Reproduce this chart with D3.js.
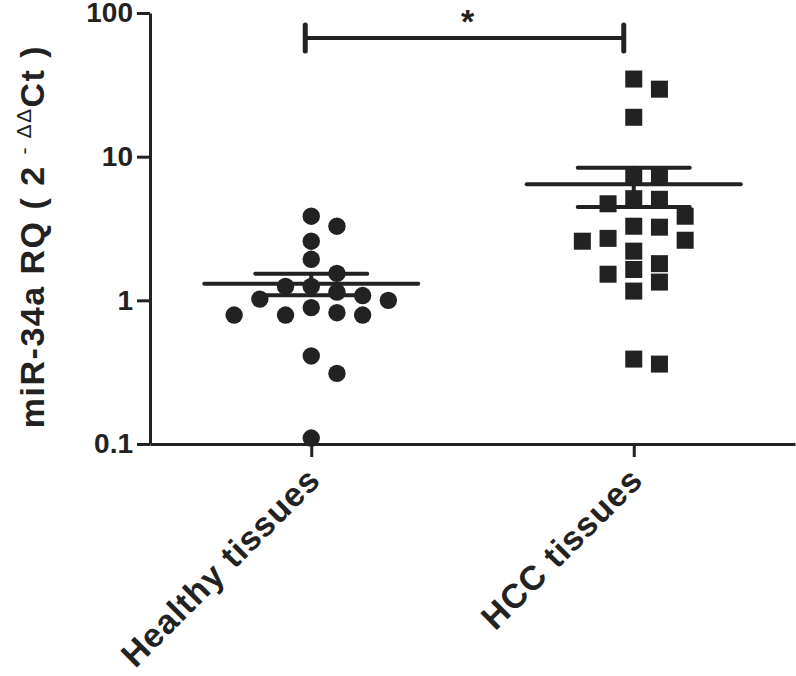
<!DOCTYPE html>
<html>
<head>
<meta charset="utf-8">
<script src="https://cdn.jsdelivr.net/npm/d3@7"></script>
<style>
body { margin: 0; background: #fff; }
text { font-family: "Liberation Sans", Arial, sans-serif; fill: #222; }
</style>
</head>
<body>
<svg id="mainsvg" width="796" height="676"></svg>
<script>
// values (relative quantity, log scale)
const categories = ['Healthy tissues', 'HCC tissues'];
const healthyValues = [3.85, 3.28, 2.58, 1.93, 1.54, 1.25, 1.25, 1.14, 1.08, 1.02, 1.0,
    0.89, 0.82, 0.79, 0.79, 0.79, 0.41, 0.31, 0.11];
const hccValues = [34.7, 29.5, 18.8, 7.4, 7.4, 5.1, 5.05, 4.7, 3.85, 3.28, 3.23,
    2.7, 2.62, 2.58, 2.2, 1.8, 1.64, 1.52, 1.34, 1.16, 0.39, 0.36];
const yTicks = [0.1, 1, 10, 100];
const yTickLabels = ['0.1', '1', '10', '100'];
const sigLabel = '*';

const ink = '#222';
const svg = d3.select('#mainsvg')
const width = +svg.attr('width')
const height = +svg.attr('height')
const margin = { top: 13, right: 1, left: 150, bottom: 232 }
const innerWidth = width - margin.left - margin.right;
const innerHeight = height - margin.top - margin.bottom;
const g = svg.append('g').attr('id', 'maingroup')
    .attr('transform', `translate(${margin.left}, ${margin.top})`)

const x = d3.scalePoint().domain(categories).range([0, innerWidth]).padding(0.5);
const y = d3.scaleLog().domain([0.1, 100]).range([innerHeight, 0]);

// axes
const yAxis = d3.axisLeft(y).tickValues(yTicks)
    .tickFormat((d, i) => yTickLabels[i]).tickSize(13).tickSizeOuter(0).tickPadding(4);
const xAxis = d3.axisBottom(x).tickSize(13).tickSizeOuter(0).tickFormat('');

const ya = g.append('g').call(yAxis);
const xa = g.append('g').attr('transform', `translate(0, ${innerHeight})`).call(xAxis);
[ya, xa].forEach(a => {
    a.selectAll('path, line').attr('stroke', ink).attr('stroke-width', 3);
});
ya.selectAll('text').attr('font-size', 28).attr('font-weight', 'bold').attr('fill', ink)
    .attr('font-family', '"Liberation Sans", Arial, sans-serif');

// rotated category labels
g.selectAll('.xlab').data(categories).join('text')
    .attr('class', 'xlab')
    .attr('text-anchor', 'end')
    .attr('font-size', 34).attr('font-weight', 'bold').attr('letter-spacing', 1)
    .attr('transform', d => `translate(${x(d) + 11}, ${innerHeight + 38}) rotate(-45)`)
    .text(d => d);

// y label with superscript
const yl = svg.append('text')
    .attr('transform', `translate(44, ${margin.top + innerHeight / 2 + 8}) rotate(-90)`)
    .attr('text-anchor', 'middle').attr('font-size', 34).attr('font-weight', 'bold')
    .attr('letter-spacing', 1.5);
yl.append('tspan').text('miR-34a RQ ( 2 ');
yl.append('tspan').attr('font-size', 21).attr('font-weight', 'normal').attr('dy', -13).text(' - ΔΔ');
yl.append('tspan').attr('dy', 13).text('Ct )');

// simple column swarm, points stacked in columns so they do not touch
const step = 25.7, gap = 18;
function swarm(values, cx) {
    const placed = [];
    return values.slice().sort((a, b) => b - a).map(v => {
        const py = y(v);
        let col = 0;
        for (let i = 0; i < 40; i++) {
            const c = i === 0 ? 0 : (i % 2 ? (i + 1) / 2 : -i / 2);
            if (!placed.some(p => p.col === c && Math.abs(p.py - py) < gap)) { col = c; break; }
        }
        placed.push({ col, py });
        return { x: cx + col * step, y: py };
    });
}

const healthyPts = swarm(healthyValues, x(categories[0]));
const hccPts = swarm(hccValues, x(categories[1]));

g.selectAll('circle').data(healthyPts).join('circle')
    .attr('cx', d => d.x).attr('cy', d => d.y).attr('r', 8.7).attr('fill', ink);
g.selectAll('rect.pt').data(hccPts).join('rect')
    .attr('class', 'pt')
    .attr('x', d => d.x - 8.5).attr('y', d => d.y - 8.5)
    .attr('width', 17).attr('height', 17).attr('fill', ink);

// mean +/- SEM
const groups = [healthyValues, hccValues].map((vals, i) => {
    const m = d3.mean(vals);
    const se = d3.deviation(vals) / Math.sqrt(vals.length);
    return { cat: categories[i], mean: m, lo: m - se, hi: m + se };
});
const stats = g.append('g').attr('stroke', ink).attr('stroke-width', 4).attr('stroke-linecap', 'round');
groups.forEach(s => {
    const cx = x(s.cat);
    stats.append('line').attr('x1', cx - 107).attr('x2', cx + 107).attr('y1', y(s.mean)).attr('y2', y(s.mean));
    stats.append('line').attr('x1', cx - 56).attr('x2', cx + 56).attr('y1', y(s.hi)).attr('y2', y(s.hi));
    stats.append('line').attr('x1', cx - 56).attr('x2', cx + 56).attr('y1', y(s.lo)).attr('y2', y(s.lo));
    stats.append('line').attr('x1', cx).attr('x2', cx).attr('y1', y(s.lo)).attr('y2', y(s.hi));
});

// significance bracket
const bx0 = x(categories[0]) - 6, bx1 = x(categories[1]) - 10, by = 25;
const br = g.append('g').attr('stroke', ink).attr('stroke-linecap', 'round');
br.append('line').attr('x1', bx0).attr('x2', bx1).attr('y1', by).attr('y2', by).attr('stroke-width', 4);
br.append('line').attr('x1', bx0).attr('x2', bx0).attr('y1', by - 13).attr('y2', by + 13).attr('stroke-width', 5);
br.append('line').attr('x1', bx1).attr('x2', bx1).attr('y1', by - 13).attr('y2', by + 13).attr('stroke-width', 5);
g.append('text').attr('x', (bx0 + bx1) / 2 + 3).attr('y', by - 5)
    .attr('text-anchor', 'middle').attr('font-size', 34).attr('font-weight', 'bold')
    .text(sigLabel);
</script>
</body>
</html>
